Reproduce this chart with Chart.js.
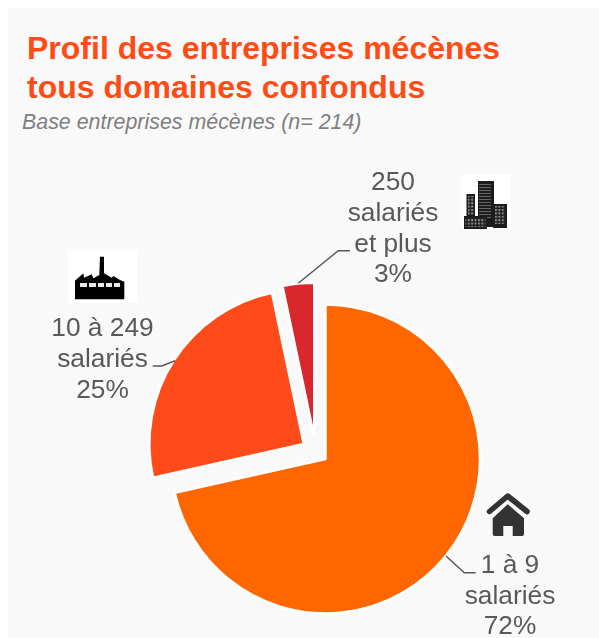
<!DOCTYPE html>
<html>
<head>
<meta charset="utf-8">
<script src="https://cdn.jsdelivr.net/npm/chart.js@4"></script>
<style>
  html, body { margin: 0; background: #fff; }
  #panel { position: absolute; left: 8px; top: 8px; width: 591px; height: 630px; background: #f9f9f9; overflow: hidden; }
  #title { position: absolute; left: 19px; top: 21px; font: bold 32px/38.7px "Liberation Sans", Arial, sans-serif; color: #ff4b14; white-space: nowrap; }
  #sub { position: absolute; left: 14px; top: 101px; font: italic 21.4px/26px "Liberation Sans", Arial, sans-serif; color: #7f7f7f; white-space: nowrap; }
  canvas { position: absolute; left: 0; top: 0; }
  svg { position: absolute; }
</style>
</head>
<body>
<div id="panel">
  <div id="title">Profil des entreprises mécènes<br>tous domaines confondus</div>
  <div id="sub">Base entreprises mécènes (n= 214)</div>
</div>
<canvas id="js-canvas-profil" width="599" height="638"></canvas>

<svg style="left:461px;top:175px" width="50" height="54" viewBox="0 0 50 54">
  <defs>
    <pattern id="win" width="3.4" height="3.4" patternUnits="userSpaceOnUse">
      <rect width="2" height="2" fill="#8a8a8a"/>
    </pattern>
    <pattern id="floors" width="16" height="3" patternUnits="userSpaceOnUse">
      <rect width="12" height="1" x="2" fill="#666"/>
    </pattern>
  </defs>
  <rect width="50" height="54" fill="#fff"/>
  <rect x="17" y="6" width="16" height="46" fill="#1c1c1c"/>
  <rect x="17" y="9" width="16" height="36" fill="url(#floors)"/>
  <rect x="5.5" y="19" width="8.5" height="24" fill="#1c1c1c"/>
  <rect x="7" y="21" width="6" height="19" fill="url(#win)"/>
  <rect x="3" y="41" width="23" height="13" fill="#1c1c1c"/>
  <rect x="4.5" y="43" width="20" height="9" fill="url(#win)"/>
  <rect x="32" y="29" width="14" height="24" fill="#1c1c1c"/>
  <rect x="34" y="31" width="10" height="18" fill="url(#win)"/>
</svg>
<svg style="left:68px;top:250px" width="69" height="53" viewBox="0 0 69 53">
  <rect width="69" height="53" fill="#fff"/>
  <path d="M7 49.3V30.7L15.3 23.3L16 27.7L23.7 24.3L25.3 28.3L31.3 25L32 6.7H36V23.3L43.7 27.7L45.3 26L52 30L56.3 31.7V49.3Z" fill="#000"/>
  <path d="M12 33h7v4h-7zM21 33h7v4h-7zM30 33h6v4h-6zM38 33h6v4h-6zM46 33h6v4h-6z" fill="#e8e8e8"/>
</svg>
<svg style="left:486px;top:493px" width="46" height="46" viewBox="0 0 46 46">
  <path d="M3.5 18.5L21.7 3L41 18.5" fill="none" stroke="#333" stroke-width="5.5" stroke-linecap="round" stroke-linejoin="round"/>
  <path d="M6.7 25.3L21.7 11.3L38 25.3V41Q38 43 36 43H26.7V33H17.3V43H8.7Q6.7 43 6.7 41Z" fill="#333"/>
</svg>

<script>
const categories = ['1 à 9 salariés', '10 à 249 salariés', '250 salariés et plus'];
const shares = [71.5, 25.2, 3.3];
const sliceColors = ['#ff6600', '#ff4b19', '#d9272c'];

const labelLines = [
  ['1 à 9', 'salariés', '72%'],
  ['10 à 249', 'salariés', '25%'],
  ['250', 'salariés', 'et plus', '3%']
];

// the slices are pulled apart by hand, not quite along their own axis
const sliceShifts = [[0, 0], [-21.7, -15], [-11.25, -21.75]];
// label and leader line positions, relative to the slice centre
const callouts = [
  { tx: 184.5, ty: 113.7, line: [[120.5, 97], [138.8, 113.7], [150.2, 113.7]] },
  { tx: -201.3, ty: -108, line: [[-128.8, -83.3], [-142.1, -78], [-151.1, -78]] },
  { tx: 78.75, ty: -247.25, line: [[-16, -154], [24, -186.5], [35.75, -186.5]] }
];

const calloutPlugin = {
  id: 'callouts',
  afterDatasetUpdate (chart) {
    chart.getDatasetMeta(0).data.forEach((arc, i) => {
      arc.x += sliceShifts[i][0];
      arc.y += sliceShifts[i][1];
    });
  },
  afterDatasetsDraw (chart) {
    const ctx = chart.ctx;
    ctx.save();
    ctx.font = '26.3px "Liberation Sans", Arial, sans-serif';
    ctx.textAlign = 'center';
    ctx.fillStyle = '#595959';
    ctx.strokeStyle = '#595959';
    ctx.lineWidth = 1.5;
    chart.getDatasetMeta(0).data.forEach((arc, i) => {
      const c = callouts[i];
      ctx.beginPath();
      c.line.forEach((p, k) => {
        if (k === 0) ctx.moveTo(arc.x + p[0], arc.y + p[1]);
        else ctx.lineTo(arc.x + p[0], arc.y + p[1]);
      });
      ctx.stroke();
      labelLines[i].forEach((t, k) => {
        ctx.fillText(t, arc.x + c.tx, arc.y + c.ty + k * 30.8);
      });
    });
    ctx.restore();
  }
};

new Chart(document.getElementById('js-canvas-profil'), {
  type: 'pie',
  data: {
    labels: categories,
    datasets: [{
      data: shares,
      backgroundColor: sliceColors,
      borderColor: '#ffffff',
      borderWidth: 2.5
    }]
  },
  options: {
    responsive: false,
    animation: false,
    radius: 154.5,
    layout: { padding: { left: 52, right: 0, top: 280, bottom: 0 } },
    plugins: { legend: { display: false }, tooltip: { enabled: false } }
  },
  plugins: [calloutPlugin]
});
</script>
</body>
</html>
